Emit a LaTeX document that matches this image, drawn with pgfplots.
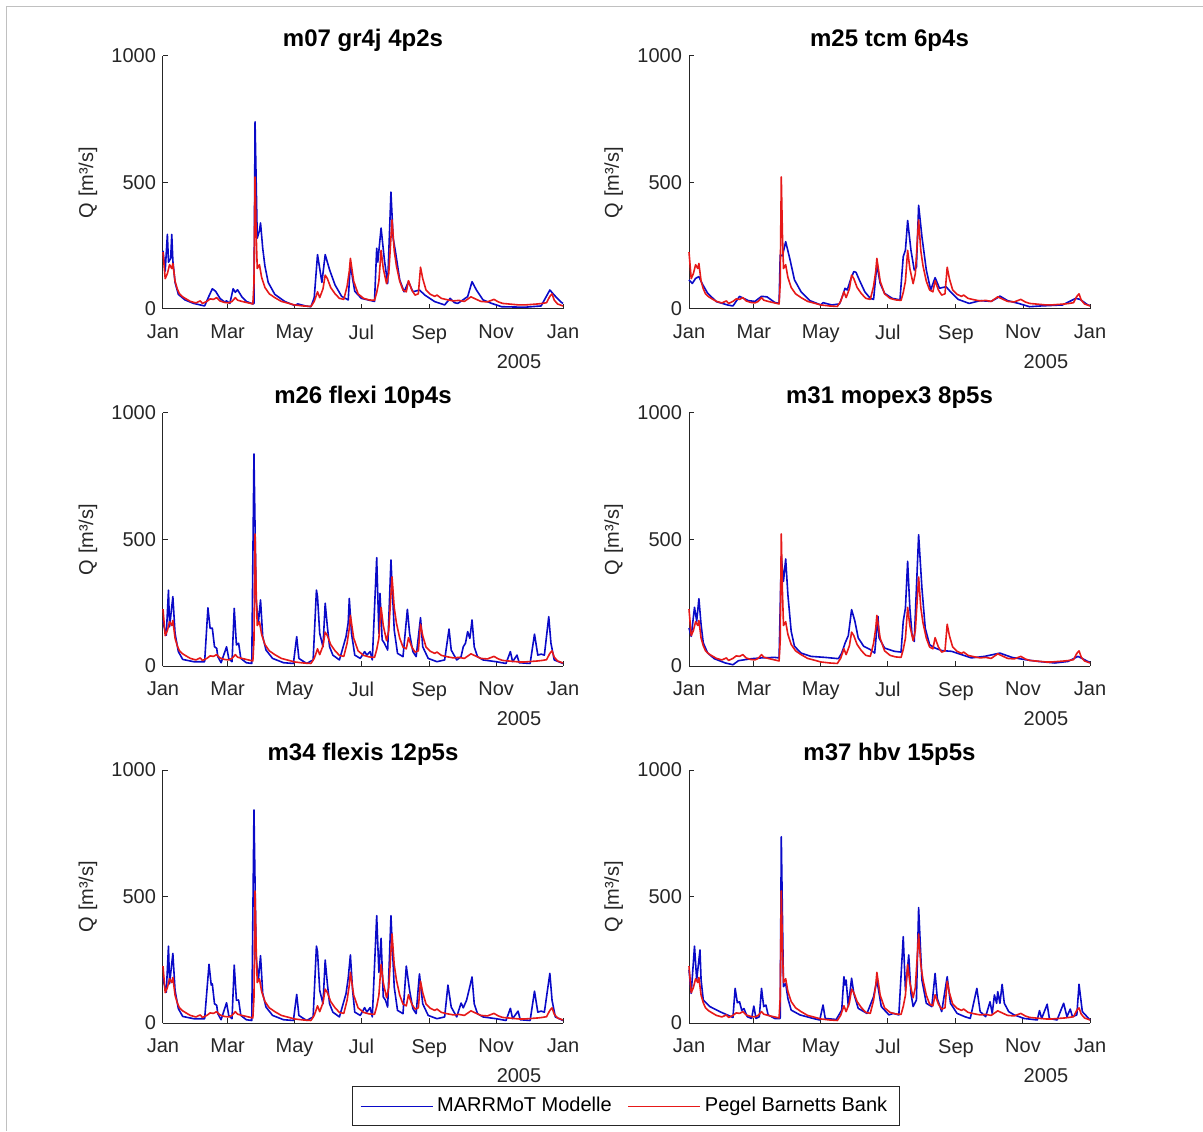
\documentclass[border=0pt]{standalone}
\usepackage{fontspec}
\setmainfont{Liberation Sans}
\usepackage{pgfplots}
\usepackage{pgfplotstable}
\pgfplotsset{compat=1.18}
\definecolor{mblue}{RGB}{10,10,200}
\definecolor{mred}{RGB}{230,25,25}
\definecolor{axgray}{RGB}{38,38,38}
\definecolor{bordergray}{RGB}{192,192,192}

% observed discharge (Pegel Barnetts Bank), day of year 2005
\pgfplotstableread{
x y
0 225
2 120
4 140
6 175
8 160
9 180
11 110
13 80
15 60
18 48
21 40
25 30
30 24
34 32
36 22
40 30
43 40
46 38
49 45
52 32
56 26
60 24
63 30
66 45
68 35
72 30
77 25
82 20
83 100
84 522
85 300
86 160
88 175
90 125
93 85
97 60
102 45
108 30
115 22
120 16
128 12
135 10
138 30
140 55
141 68
143 45
146 80
148 134
150 120
153 85
157 60
161 42
165 38
168 90
170 150
171 200
172 170
174 110
178 60
183 42
188 36
193 34
195 65
197 110
199 232
201 160
204 100
206 140
209 352
211 230
213 170
216 110
219 75
222 68
224 112
227 75
230 55
233 60
235 165
237 120
240 75
244 58
248 50
250 55
254 42
260 36
265 32
270 34
275 30
281 48
285 40
290 30
296 28
302 38
306 28
310 22
315 20
320 18
325 16
330 16
336 18
342 20
346 22
350 25
353 50
355 60
357 35
360 20
365 12
}\obs

% m07 gr4j 4p2s
\pgfplotstableread{
x y
0 230
2 150
4 295
5 185
7 200
8 295
9 190
11 105
14 58
20 36
28 22
38 12
41 42
45 80
48 70
52 42
56 28
58 32
61 22
64 80
66 66
68 76
72 48
76 30
82 20
83 22
84 740
86 280
88 310
89 340
91 240
93 170
96 105
102 58
111 30
120 14
123 20
130 12
135 9
138 45
141 215
143 160
145 105
148 215
152 155
157 95
163 50
169 36
171 180
173 120
175 70
181 42
190 33
193 30
195 240
196 185
199 320
202 195
205 100
208 462
210 280
212 230
216 115
220 68
224 108
228 68
234 75
239 55
248 29
257 16
262 42
266 25
269 22
278 49
282 108
286 75
292 36
300 22
309 9
330 7
345 12
353 75
357 55
363 28
365 22
}\bA

% m25 tcm 6p4s
\pgfplotstableread{
x y
0 115
3 101
6 121
9 128
12 100
17 62
25 29
35 16
40 12
46 50
54 33
60 30
66 50
71 48
78 26
82 22
83 213
85 210
88 266
92 194
96 115
102 68
110 33
120 16
122 25
130 16
137 20
140 55
142 82
144 75
147 115
150 148
152 145
155 115
160 68
165 42
168 38
171 175
174 101
178 62
185 42
192 36
195 207
197 233
199 350
202 233
205 154
207 165
209 410
212 286
216 154
220 75
224 124
228 82
234 88
238 68
245 38
255 22
265 33
275 30
280 42
283 51
290 33
300 22
310 9
320 12
340 16
352 42
356 38
363 16
365 14
}\bB

% m26 flexi 10p4s
\pgfplotstableread{
x y
0 180
1 155
3 122
5 300
6 155
9 274
11 129
14 57
18 26
28 17
38 17
41 230
43 149
45 150
47 76
49 70
50 37
53 13
58 76
60 30
63 17
65 228
67 83
69 90
71 30
76 13
81 10
83 838
85 260
87 169
89 261
91 116
94 63
100 30
110 13
119 10
122 116
124 30
131 10
137 24
140 300
141 274
143 129
146 76
148 248
150 155
152 76
155 43
161 24
167 116
169 171
170 267
172 129
175 43
180 30
184 57
186 43
189 57
191 24
195 428
197 129
198 287
200 103
202 90
205 63
208 419
211 142
214 50
219 37
223 224
225 129
228 57
231 37
235 191
237 76
242 30
250 17
257 24
261 146
263 63
268 24
272 37
274 76
276 90
278 136
280 109
282 182
284 76
287 37
292 24
304 17
313 10
317 57
319 17
323 43
325 13
335 10
339 126
342 43
345 47
348 43
352 195
354 90
357 24
365 10
}\bC

% m31 mopex3 8p5s
\pgfplotstableread{
x y
0 150
2 117
5 232
7 177
9 266
11 163
13 91
17 51
23 29
33 12
40 5
45 21
57 29
66 32
78 34
82 32
84 433
86 335
88 423
90 282
93 137
96 78
102 51
111 38
124 34
136 29
139 51
142 90
145 120
148 223
151 177
154 111
159 78
165 65
169 51
172 196
173 111
178 71
187 58
193 55
195 177
197 229
199 414
201 229
203 124
205 97
209 519
212 308
215 150
219 84
224 71
230 61
239 58
248 45
257 32
269 38
283 51
294 34
306 25
318 18
333 12
345 18
354 38
363 18
365 15
}\bD

% m34 flexis 12p5s
\pgfplotstableread{
x y
0 180
1 155
3 122
5 304
6 155
9 275
11 129
14 57
18 26
28 17
38 17
42 232
44 150
45 155
47 76
49 70
50 37
53 13
58 80
60 30
63 17
65 229
67 90
69 91
71 30
76 13
81 10
83 842
85 260
87 169
89 266
91 116
94 63
100 30
110 13
119 10
122 113
124 30
131 10
137 24
140 304
141 282
143 129
146 76
148 249
150 155
152 76
155 43
161 24
167 116
169 177
171 269
173 129
175 43
180 30
184 61
186 43
189 61
191 24
195 424
197 200
199 335
201 103
203 90
205 63
208 424
211 142
214 50
219 37
222 225
225 129
228 57
231 37
234 194
237 76
242 30
250 17
257 24
260 150
263 63
268 24
272 79
274 60
277 90
280 144
282 182
284 76
287 37
292 24
304 17
313 10
317 58
319 17
324 47
326 13
335 10
339 126
342 43
345 47
348 43
353 196
355 90
358 24
365 10
}\bE

% m37 hbv 15p5s
\pgfplotstableread{
x y
0 210
2 117
5 304
7 170
10 289
11 170
13 91
19 65
28 45
40 22
42 137
44 80
46 84
48 50
50 57
53 25
57 18
59 67
61 18
64 25
66 137
68 65
70 71
72 32
78 18
83 18
84 736
86 144
88 157
90 97
93 51
101 32
113 18
119 12
122 71
124 18
134 14
139 51
141 183
142 150
143 170
145 65
148 177
150 117
154 58
162 38
168 104
171 170
175 65
182 32
186 38
191 32
195 341
197 130
200 269
202 117
204 65
207 91
209 456
212 170
216 78
221 65
224 196
226 97
230 45
235 183
238 78
244 38
251 25
256 18
262 137
265 45
270 25
274 84
276 38
278 111
280 78
281 124
283 78
285 153
287 78
291 45
296 32
305 18
317 12
319 49
321 18
326 74
328 18
335 12
341 78
344 25
347 55
349 25
353 32
355 153
358 45
365 12
}\bF

\pgfplotsset{
  every axis title shift=0pt,
  qax/.style={
    scale only axis, width=200pt, height=126.5pt,
    xmin=0, xmax=365, ymin=0, ymax=1000,
    clip=false,
    axis lines*=left,
    axis line style={axgray, line width=0.5pt, -},
    tick align=inside, major tick length=2.5pt,
    tick style={axgray, line width=0.5pt},
    xtick={0,59,120,181,243,304,365},
    xticklabels={Jan,Mar,May,Jul,Sep,Nov,Jan},
    ytick={0,500,1000}, yticklabels={0,500,1000},
    tick label style={font=\fontsize{10}{12}\selectfont, text=axgray},
    xticklabel style={yshift=-4.5pt},
    ylabel={Q [m³/s]},
    ylabel style={font=\fontsize{10}{12}\selectfont, text=axgray,
      at={(axis description cs:-0.1875,0.5)}, anchor=center},
    title style={font=\bfseries\fontsize{12}{14}\selectfont,
      at={(axis description cs:0.5,1)}, anchor=south, inner sep=2pt},
    every axis plot/.append style={line width=0.8pt, line join=round},
  },
}
\newcommand{\yearlabel}{\node[font=\fontsize{10}{12}\selectfont, text=axgray, yshift=-26.5pt] at (rel axis cs:0.89,0) {2005};}

\begin{document}
\begin{tikzpicture}
\useasboundingbox (0,0) rectangle (601.5pt,565.5pt);
\draw[bordergray, line width=0.8pt] (3.25pt,0) -- (3.25pt,562.25pt) -- (601.5pt,562.25pt);

% row 1
\begin{axis}[qax, at={(81.5pt,411pt)}, anchor=south west, title={m07 gr4j 4p2s}]
\addplot[mblue, no markers] table {\bA};
\addplot[mred, no markers] table {\obs};
\yearlabel
\end{axis}
\begin{axis}[qax, at={(344.5pt,411pt)}, anchor=south west, width=200.5pt, title={m25 tcm 6p4s}]
\addplot[mblue, no markers] table {\bB};
\addplot[mred, no markers] table {\obs};
\yearlabel
\end{axis}

% row 2
\begin{axis}[qax, at={(81.5pt,232.5pt)}, anchor=south west, title={m26 flexi 10p4s}]
\addplot[mblue, no markers] table {\bC};
\addplot[mred, no markers] table {\obs};
\yearlabel
\end{axis}
\begin{axis}[qax, at={(344.5pt,232.5pt)}, anchor=south west, width=200.5pt, title={m31 mopex3 8p5s}]
\addplot[mblue, no markers] table {\bD};
\addplot[mred, no markers] table {\obs};
\yearlabel
\end{axis}

% row 3
\begin{axis}[qax, at={(81.5pt,54pt)}, anchor=south west, title={m34 flexis 12p5s}]
\addplot[mblue, no markers] table {\bE};
\addplot[mred, no markers] table {\obs};
\yearlabel
\end{axis}
\begin{axis}[qax, at={(344.5pt,54pt)}, anchor=south west, width=200.5pt, title={m37 hbv 15p5s},
  legend columns=2,
  legend image code/.code={\draw[#1, line width=0.6pt] (0pt,0pt) -- (36pt,0pt);},
  legend style={at={(axis description cs:-0.158,-0.329)}, anchor=center,
    draw=axgray, line width=0.5pt, font=\fontsize{10}{12}\selectfont,
    inner xsep=4pt, inner ysep=3.5pt,
    /tikz/every even column/.append style={column sep=6pt}},
  legend cell align=left]
\addplot[mblue, no markers] table {\bF};
\addlegendentry{MARRMoT Modelle}
\addplot[mred, no markers] table {\obs};
\addlegendentry{Pegel Barnetts Bank}
\yearlabel
\end{axis}
\end{tikzpicture}
\end{document}
